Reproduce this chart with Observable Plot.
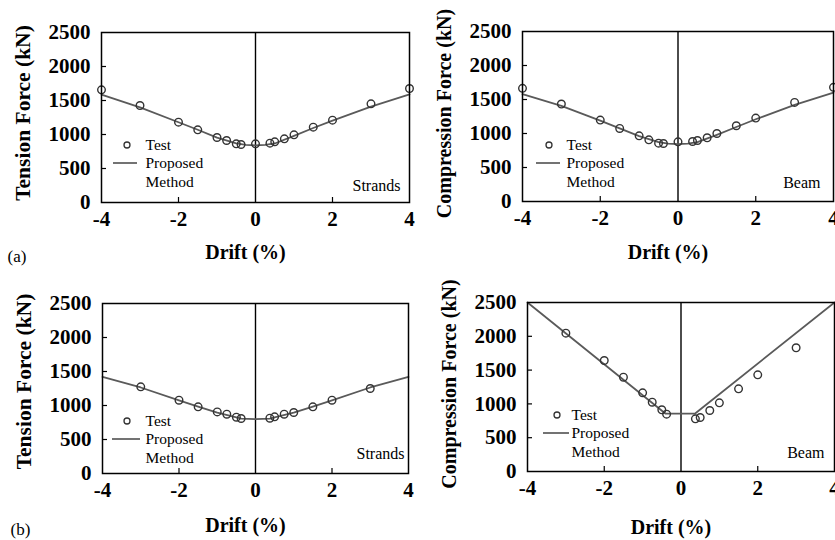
<!DOCTYPE html>
<html>
<head>
<meta charset="utf-8">
<script src="https://cdn.jsdelivr.net/npm/d3@7"></script>
<script src="https://cdn.jsdelivr.net/npm/@observablehq/plot@0.6"></script>
<style>
  html, body { margin: 0; padding: 0; background: #fff; }
  #wrap { position: relative; width: 835px; height: 540px; overflow: hidden; font-family: "Liberation Serif", "Times New Roman", serif; }
  #wrap > div { position: absolute; }
</style>
</head>
<body>
<div id="wrap">
  <div id="pa1"></div><div id="pa2"></div><div id="pb1"></div><div id="pb2"></div>
</div>
<script>
// ---- data ----
const xTicks = [-4, -2, 0, 2, 4];
const yTicks = [0, 500, 1000, 1500, 2000, 2500];
const xInnerTicks = [-2, 2];
const yInnerTicks = [500, 1000, 1500, 2000];
const xLabel = "Drift (%)";
const legendTest = "Test";
const legendProp1 = "Proposed";
const legendProp2 = "Method";

// (a) test points
const driftA = [-4, -3, -2, -1.5, -1, -0.75, -0.5, -0.375, 0, 0.375, 0.5, 0.75, 1, 1.5, 2, 3, 4];
const strandsA_test = [1657, 1426, 1181, 1069, 956, 912, 863, 853, 863, 873, 892, 936, 995, 1108, 1211, 1451, 1676];
const beamA_test = [1664, 1433, 1197, 1074, 966, 907, 858, 853, 877, 882, 897, 937, 1000, 1114, 1227, 1457, 1679];
// (a) proposed method
const propDriftA = [-4, -3, -2, -1.5, -1, -0.5, -0.25, 0, 0.25, 0.5, 1, 1.5, 2, 3, 4];
const strandsA_prop = [1585, 1400, 1180, 1070, 955, 870, 848, 840, 848, 868, 980, 1095, 1205, 1410, 1590];
const beamA_prop = [1580, 1405, 1190, 1075, 962, 872, 850, 843, 850, 872, 980, 1095, 1210, 1420, 1600];

// (b) test points
const driftB = [-3, -2, -1.5, -1, -0.75, -0.5, -0.375, 0.375, 0.5, 0.75, 1, 1.5, 2, 3];
const strandsB_test = [1274, 1078, 980, 906, 872, 828, 809, 813, 833, 872, 897, 980, 1078, 1250];
const beamB_test = [2046, 1642, 1395, 1164, 1025, 913, 848, 779, 799, 902, 1016, 1223, 1430, 1830];
// (b) proposed method
const propDriftB = [-4, -3, -2, -1.5, -1, -0.5, -0.375, 0, 0.375, 0.5, 1, 1.5, 2, 3, 4];
const strandsB_prop = [1420, 1265, 1075, 985, 895, 825, 808, 800, 808, 825, 895, 985, 1075, 1265, 1420];
const beamPropDriftB = [-4, -0.4, 0.36, 4];
const beamB_prop = [2500, 855, 855, 2500];

const panels = [
  {id: "pa1", left: 0, top: 0, width: 417, height: 270, ml: 101, mr: 8, mt: 32, mb: 68,
   ylabel: "Tension Force (kN)", ylSize: 21.5, tag: "Strands", tagDx: 9, tagDy: 17,
   tx: driftA, ty: strandsA_test, px: propDriftA, py: strandsA_prop,
   xlDy: 50, ylDy: -4.5, part: "(a)", partDx: -94, partDy: 54,
   leg: {cx: 26, cy: -57, lx1: 12, lx2: 36, ly: -39, tx: 44, my: -20.5}},
  {id: "pa2", left: 417, top: 0, width: 418, height: 270, ml: 105, mr: 2, mt: 31, mb: 69,
   ylabel: "Compression Force (kN)", ylSize: 20, tag: "Beam", tagDx: 13, tagDy: 18.5,
   tx: driftA, ty: beamA_test, px: propDriftA, py: beamA_prop,
   xlDy: 51, ylDy: -3,
   leg: {cx: 27, cy: -56, lx1: 14, lx2: 38, ly: -38, tx: 44, my: -19.5}},
  {id: "pb1", left: 0, top: 270, width: 417, height: 270, ml: 102, mr: 9, mt: 33, mb: 67,
   ylabel: "Tension Force (kN)", ylSize: 21.5, tag: "Strands", tagDx: 4, tagDy: 20,
   tx: driftB, ty: strandsB_test, px: propDriftB, py: strandsB_prop,
   xlDy: 52, ylDy: -7, part: "(b)", partDx: -92, partDy: 56,
   leg: {cx: 25, cy: -52, lx1: 10, lx2: 38, ly: -34, tx: 43, my: -15.5}},
  {id: "pb2", left: 417, top: 270, width: 418, height: 270, ml: 110, mr: 1, mt: 32, mb: 69,
   ylabel: "Compression Force (kN)", ylSize: 20, tag: "Beam", tagDx: 10, tagDy: 19,
   tx: driftB, ty: beamB_test, px: beamPropDriftB, py: beamB_prop,
   xlDy: 56, ylDy: -3,
   leg: {cx: 30, cy: -56, lx1: 16, lx2: 42, ly: -38, tx: 44, my: -19.5}}
];

const FONT = "'Liberation Serif', 'Times New Roman', serif";

for (const p of panels) {
  const pts = p.tx.map((x, i) => ({x, y: p.ty[i]}));
  const line = p.px.map((x, i) => ({x, y: p.py[i]}));
  const iw = p.width - p.ml - p.mr;
  const ih = p.height - p.mt - p.mb;
  const marks = [
    Plot.ruleX([0], {stroke: "black", strokeWidth: 1.4}),
    Plot.line(line, {x: "x", y: "y", stroke: "#5a5a5a", strokeWidth: 1.8}),
    Plot.dot(pts, {x: "x", y: "y", r: 3.8, stroke: "#333", strokeWidth: 1.4, fill: "none"}),
    Plot.tickY(yInnerTicks, {y: d => d, stroke: "black", strokeWidth: 1.2, insetRight: iw - 5}),
    Plot.tickX(xInnerTicks, {x: d => d, stroke: "black", strokeWidth: 1.2, insetTop: ih - 5}),
    Plot.frame({stroke: "black", strokeWidth: 1.5}),
    Plot.axisX(xTicks, {tickSize: 0, tickPadding: 9, tickFormat: d => String(d), fontSize: 21, fontWeight: "bold", fontFamily: FONT, label: null}),
    Plot.axisY(yTicks, {tickSize: 0, tickPadding: 11, tickFormat: d => String(d), fontSize: 21, fontWeight: "bold", fontFamily: FONT, label: null}),
    Plot.text([xLabel], {frameAnchor: "bottom", dx: -10, dy: p.xlDy, fontSize: 20, fontWeight: "bold", fontFamily: FONT, lineAnchor: "middle"}),
    Plot.text([p.ylabel], {frameAnchor: "left", rotate: -90, dx: -78, dy: p.ylDy, fontSize: p.ylSize, fontWeight: "bold", fontFamily: FONT, lineAnchor: "middle", textAnchor: "middle"}),
    Plot.text([p.tag], {frameAnchor: "bottom-right", dx: -p.tagDx, dy: -p.tagDy, textAnchor: "end", lineAnchor: "middle", fontSize: 16, fontFamily: FONT}),
    Plot.text([legendTest], {frameAnchor: "bottom-left", dx: p.leg.tx, dy: p.leg.cy, textAnchor: "start", lineAnchor: "middle", fontSize: 15.5, fontFamily: FONT}),
    Plot.text([legendProp1], {frameAnchor: "bottom-left", dx: p.leg.tx, dy: p.leg.ly, textAnchor: "start", lineAnchor: "middle", fontSize: 15.5, fontFamily: FONT}),
    Plot.text([legendProp2], {frameAnchor: "bottom-left", dx: p.leg.tx, dy: p.leg.my, textAnchor: "start", lineAnchor: "middle", fontSize: 15.5, fontFamily: FONT})
  ];
  if (p.part) {
    marks.push(Plot.text([p.part], {frameAnchor: "bottom-left", dx: p.partDx, dy: p.partDy, textAnchor: "start", lineAnchor: "middle", fontSize: 17, fontFamily: FONT}));
  }
  const svg = Plot.plot({
    width: p.width, height: p.height,
    marginLeft: p.ml, marginRight: p.mr, marginTop: p.mt, marginBottom: p.mb,
    style: {fontFamily: FONT, background: "transparent", overflow: "visible", color: "black"},
    x: {domain: [-4, 4]},
    y: {domain: [0, 2500]},
    marks
  });
  // legend symbols (circle + line sample)
  const g = d3.select(svg).append("g");
  const fx = p.ml, fy = p.height - p.mb;
  g.append("circle").attr("cx", fx + p.leg.cx).attr("cy", fy + p.leg.cy).attr("r", 3)
    .attr("fill", "none").attr("stroke", "#333").attr("stroke-width", 1.3);
  g.append("line").attr("x1", fx + p.leg.lx1).attr("x2", fx + p.leg.lx2)
    .attr("y1", fy + p.leg.ly).attr("y2", fy + p.leg.ly)
    .attr("stroke", "#5a5a5a").attr("stroke-width", 1.7);
  const host = document.getElementById(p.id);
  host.style.left = p.left + "px";
  host.style.top = p.top + "px";
  host.appendChild(svg);
}
</script>
</body>
</html>
